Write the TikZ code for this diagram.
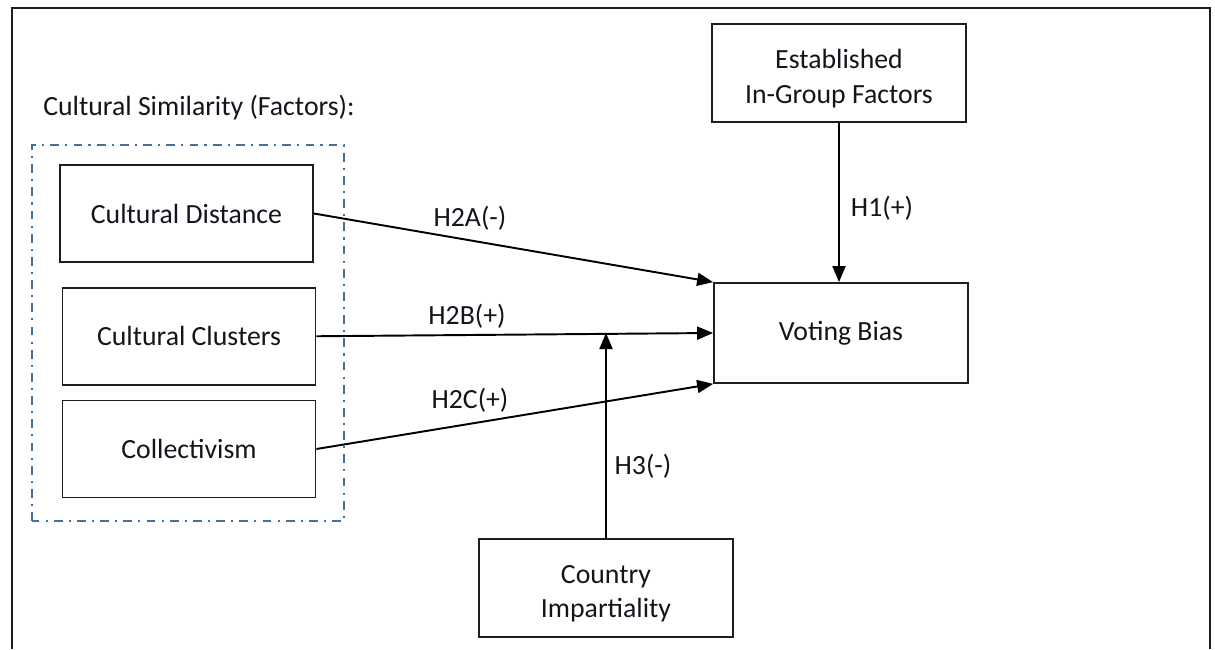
\documentclass[tikz,border=0pt]{standalone}
\usepackage{fontspec}
\setmainfont{Carlito}
\usetikzlibrary{arrows.meta,positioning}
\definecolor{framegray}{RGB}{30,30,30}
\definecolor{dashblue}{RGB}{70,112,155}
\definecolor{inkdark}{RGB}{20,20,28}
\newcommand{\topstrut}{\rule{0pt}{17pt}}

\begin{document}
\begin{tikzpicture}[
        font=\fontsize{15.8}{19.5}\selectfont,
        factor/.style={draw=framegray,line width=1pt,text=inkdark,minimum width=5.06cm,
          minimum height=1.94cm,align=center,inner sep=0pt},
        twoline/.style={minimum width=5.08cm,minimum height=1.96cm},
        hyp/.style={text=inkdark,inner sep=1pt},
        arr/.style={-{Triangle[length=0.32cm,width=0.26cm]},line width=1.1pt,draw=black}
      ]
      \useasboundingbox (0,0) rectangle (24.3,12.98);
      % outer frame (open at the bottom)
      \draw[line width=1.3pt,draw=framegray] (0.24,0) -- (0.24,12.82) -- (24.2,12.82) -- (24.2,0);

      % cultural similarity group
      \node[anchor=west,text=inkdark,inner sep=0pt] (title) at (0.86,10.82) {Cultural Similarity (Factors):};
      \draw[dashblue,line width=1.2pt,dash pattern=on 5pt off 3.5pt on 1.2pt off 3.5pt]
        (0.64,2.56) rectangle (6.88,10.08);
      \node[factor] (dist) at (3.73,8.71) {Cultural Distance};
      \node[factor,below=0.48cm of dist,xshift=0.05cm] (clust) {Cultural Clusters};
      \node[factor,below=0.28cm of clust] (coll) {Collectivism};

      % outcome and other drivers
      \node[factor,minimum width=5.08cm,minimum height=2cm] (vote) at (16.82,6.32) {Voting Bias};
      \node[factor,twoline,above=3.18cm of vote,xshift=-0.04cm] (est) {\topstrut Established\\In-Group Factors};
      \node[factor,twoline] (imp) at (12.12,1.22) {\topstrut Country\\Impartiality};
      \coordinate (mod) at (imp.north |- vote.west);

      \draw[arr] (dist.east) -- (vote.north west);
      \draw[arr] (clust.east) -- (vote.west);
      \draw[arr] (coll.east) -- (vote.south west);
      \draw[arr] (est.south) -- (est.south |- vote.north);
      \draw[arr] (imp.north) -- (mod);

      % hypothesis labels
      \node[hyp] (h2a) at (9.4,8.62) {H2A(-)};
      \node[hyp] (h2b) at (9.34,6.66) {H2B(+)};
      \node[hyp] (h2c) at (9.4,4.98) {H2C(+)};
      \node[hyp] (h1) at (17.64,8.82) {H1(+)};
      \node[hyp] (h3) at (12.86,3.66) {H3(-)};
    \end{tikzpicture}
\end{document}
